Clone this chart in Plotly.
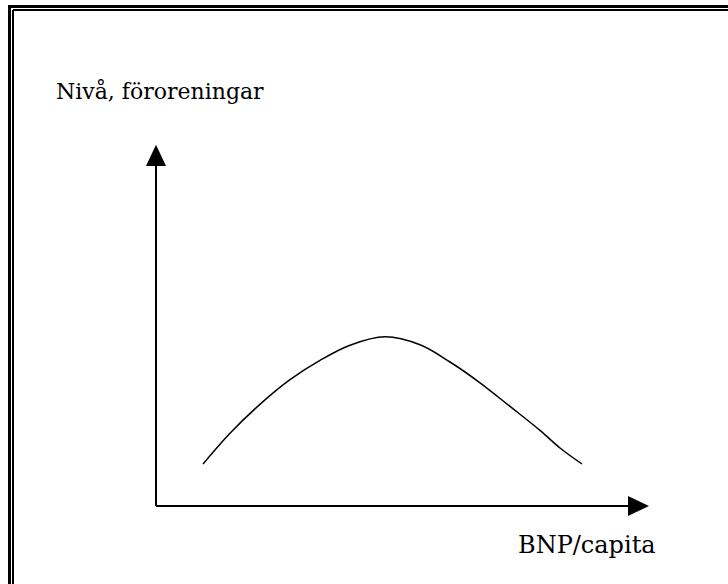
import plotly.graph_objects as go

# Data: Environmental Kuznets curve (arbitrary units)
bnp_per_capita = [0.94, 1.48, 2.14, 2.68, 3.28, 3.88, 4.58, 5.28, 5.88, 6.48, 7.08, 7.68, 8.08, 8.52]
pollution_level = [1.05, 1.82, 2.61, 3.16, 3.64, 4.02, 4.23, 4.03, 3.60, 3.08, 2.49, 1.89, 1.45, 1.05]

y_label = "Nivå, föroreningar"
x_label = "BNP/capita"

W, H = 728, 584
FONT = "DejaVu Serif, Liberation Serif, serif"

fig = go.Figure()
fig.add_trace(go.Scatter(
    x=bnp_per_capita, y=pollution_level, mode="lines",
    line=dict(color="black", width=1.5, shape="spline", smoothing=1.0),
    hoverinfo="skip", showlegend=False,
))

# Axis frame (data units)
x_end, y_end = 9.86, 9.03
fig.add_shape(type="line", x0=0, y0=0, x1=9.5, y1=0, line=dict(color="black", width=2))
fig.add_shape(type="line", x0=0, y0=0, x1=0, y1=8.6, line=dict(color="black", width=2))
fig.add_shape(type="path", path=f"M 9.44 -0.25 L {x_end} 0 L 9.44 0.25 Z",
              fillcolor="black", line=dict(color="black", width=0))
fig.add_shape(type="path", path=f"M -0.2 8.5 L 0 {y_end} L 0.2 8.5 Z",
              fillcolor="black", line=dict(color="black", width=0))

# Double border (top & left), paper coordinates
def px(x):
    return x / W
def py(y):
    return 1 - y / H

fig.add_shape(type="line", xref="paper", yref="paper", x0=px(8), y0=py(6.5), x1=1.02, y1=py(6.5),
              line=dict(color="black", width=3))
fig.add_shape(type="line", xref="paper", yref="paper", x0=px(9.5), y0=py(5), x1=px(9.5), y1=-0.02,
              line=dict(color="black", width=3))
fig.add_shape(type="line", xref="paper", yref="paper", x0=px(13), y0=py(10), x1=1.02, y1=py(10),
              line=dict(color="black", width=2))
fig.add_shape(type="line", xref="paper", yref="paper", x0=px(13), y0=py(10), x1=px(13), y1=-0.02,
              line=dict(color="black", width=2))

fig.add_annotation(text=y_label, xref="paper", yref="paper", x=px(54), y=py(106),
                   xanchor="left", yanchor="bottom", showarrow=False,
                   font=dict(family=FONT, size=22, color="black"))
fig.add_annotation(text=x_label, xref="paper", yref="paper", x=px(516), y=py(561),
                   xanchor="left", yanchor="bottom", showarrow=False,
                   font=dict(family=FONT, size=24, color="black"))

fig.update_layout(
    width=W, height=H,
    margin=dict(l=0, r=0, t=0, b=0),
    paper_bgcolor="white", plot_bgcolor="white",
    xaxis=dict(range=[-3.12, 11.44], visible=False, fixedrange=True),
    yaxis=dict(range=[-1.95, 12.65], visible=False, fixedrange=True),
    showlegend=False,
)

fig.write_html("out.html", config={"displayModeBar": False},
               post_script="document.body.style.margin='0';")
